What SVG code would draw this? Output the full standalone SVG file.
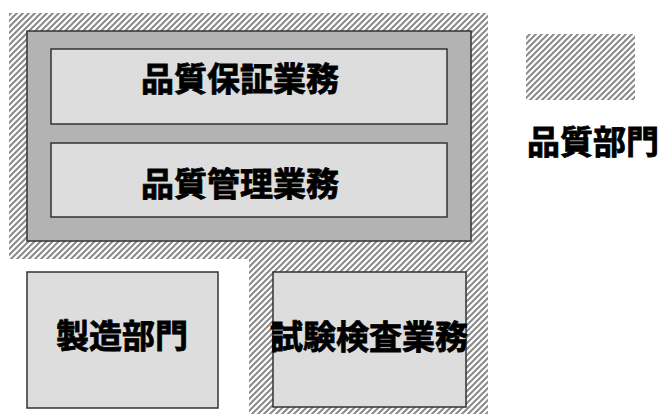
<svg xmlns="http://www.w3.org/2000/svg" width="662" height="414" viewBox="0 0 662 414">
<defs>
<pattern id="hatch" patternUnits="userSpaceOnUse" width="6" height="6">
<rect width="6" height="6" fill="#ffffff"/>
<path d="M-1,1 L1,-1 M0,6 L6,0 M5,7 L7,5" stroke="#8a8a8a" stroke-width="2"/>
</pattern>
</defs>
<style>
.box{fill:#dddddd;stroke:#333333;stroke-width:1.5}
.outer{fill:#b3b3b3;stroke:#333333;stroke-width:1.5}
.hatch{fill:url(#hatch);stroke:none}
.t{font-family:"Noto Sans CJK JP","Noto Sans CJK SC",sans-serif;font-weight:bold;font-size:33px;fill:#000;stroke:#000;stroke-width:0.8;text-anchor:middle}
</style>
<rect width="662" height="414" fill="#ffffff"/>
<g id="quality-dept-area">
<path class="hatch" d="M9,13 H488 V414 H249 V259 H9 Z"/>
</g>
<g id="quality-container">
<rect class="outer" x="27" y="31" width="444" height="210"/>
</g>
<g id="qa-work">
<rect class="box" x="51" y="49" width="396" height="75"/>
<text class="t" x="240" y="91">品質保証業務</text>
</g>
<g id="qc-work">
<rect class="box" x="51" y="143" width="396" height="74"/>
<text class="t" x="240" y="196">品質管理業務</text>
</g>
<g id="manufacturing">
<rect class="box" x="27" y="272" width="191" height="136"/>
<text class="t" x="122" y="348">製造部門</text>
</g>
<g id="inspection">
<rect class="box" x="273" y="272" width="193" height="135"/>
<text class="t" x="369" y="349">試験検査業務</text>
</g>
<g id="legend">
<rect class="hatch" x="526" y="34" width="109" height="66"/>
<text class="t" x="593" y="154">品質部門</text>
</g>
<g id="connectors"/>
</svg>
